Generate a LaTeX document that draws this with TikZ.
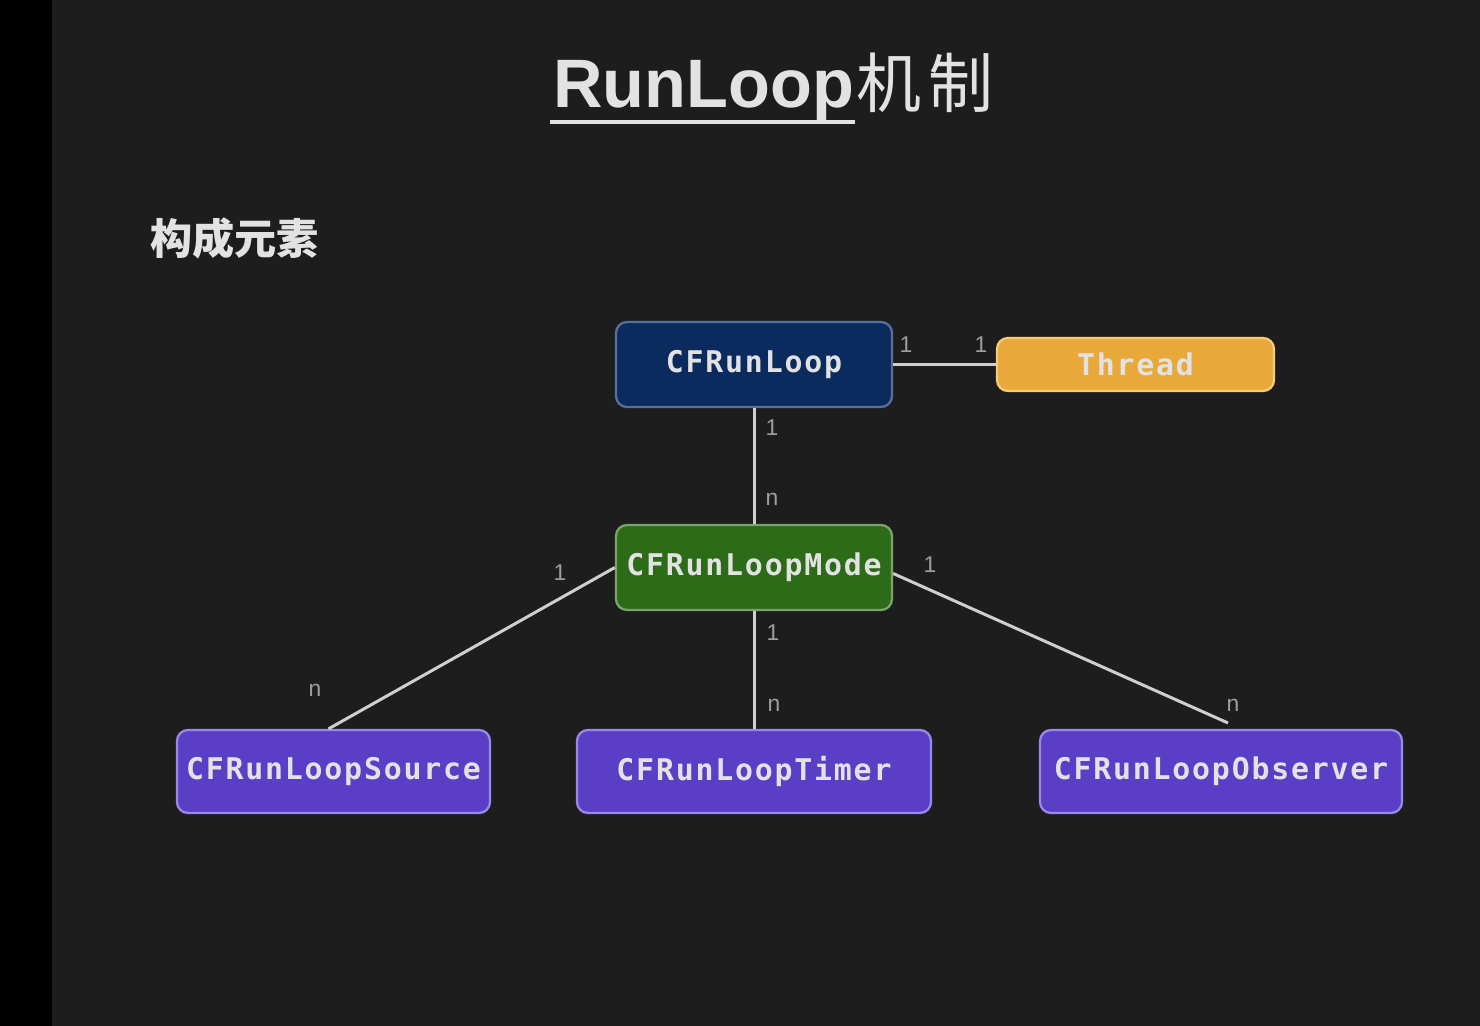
\documentclass[tikz,border=0pt]{standalone}
\usepackage{fontspec}
\setmainfont{Liberation Sans}
\newfontfamily\cjkfont{Noto Sans CJK SC}
\newfontfamily\boxfont[LetterSpace=6]{DejaVu Sans Mono}
\definecolor{bgc}{HTML}{1D1D1D}
\definecolor{txt}{HTML}{E2E2E2}
\definecolor{linec}{HTML}{CFCFCF}
\definecolor{lblc}{HTML}{9E9E9E}
\definecolor{navyF}{HTML}{0B2A5E}
\definecolor{navyD}{HTML}{5A6E9C}
\definecolor{orangeF}{HTML}{E8A93A}
\definecolor{orangeD}{HTML}{F5CB7A}
\definecolor{greenF}{HTML}{2C6B17}
\definecolor{greenD}{HTML}{7AA56A}
\definecolor{purpleF}{HTML}{5A3EC6}
\definecolor{purpleD}{HTML}{9A88E6}
\tikzset{
  box/.style={rounded corners=0.22cm, line width=1.3pt, inner sep=0pt,
    text=txt, font=\boxfont\bfseries\fontsize{17}{20}\selectfont},
  conn/.style={draw=linec, line width=1.7pt},
  lbl/.style={text=lblc, font=\fontsize{13}{15}\selectfont, inner sep=0pt}
}
\begin{document}
\begin{tikzpicture}[x=0.02cm,y=-0.02cm]
\useasboundingbox (0,0) rectangle (1480,1026);
\fill[bgc] (0,0) rectangle (1480,1026);
\fill[black] (0,0) rectangle (52,1026);
% title
\node[anchor=base west, inner sep=0pt, text=txt, font=\bfseries\fontsize{39}{44}\selectfont] (title) at (553,108) {RunLoop};
\node[anchor=base west, inner sep=0pt, text=txt, font=\cjkfont\fontsize{37}{44}\selectfont] (titlecjk) at ([xshift=2*0.02cm]title.base east) {机\hspace{4pt}制};
\draw[draw=txt, line width=1.8pt] (550,122) -- (855,122);
\node[anchor=west, inner sep=0pt, text=txt, font=\cjkfont\bfseries\fontsize{24}{28}\selectfont] (sub) at (150,238) {构成元素};
% nodes
\node[box, fill=navyF, draw=navyD, minimum width=276*0.02cm, minimum height=85*0.02cm] (loop) at (754,364.5) {CFRunLoop};
\node[box, fill=orangeF, draw=orangeD, minimum width=277*0.02cm, minimum height=53*0.02cm] (thread) at (1135.5,364.5) {Thread};
\node[box, fill=greenF, draw=greenD, minimum width=276*0.02cm, minimum height=85*0.02cm] (mode) at (754,567.5) {CFRunLoopMode};
\node[box, fill=purpleF, draw=purpleD, minimum width=313*0.02cm, minimum height=83*0.02cm] (source) at (333.5,771.5) {CFRunLoopSource};
\node[box, fill=purpleF, draw=purpleD, minimum width=354*0.02cm, minimum height=83*0.02cm] (timer) at (754,771.5) {CFRunLoopTimer};
\node[box, fill=purpleF, draw=purpleD, minimum width=362*0.02cm, minimum height=83*0.02cm] (observer) at (1221,771.5) {CFRunLoopObserver};
% connectors
\draw[conn] (loop.east) -- (thread.west);
\draw[conn] (loop.south) -- (mode.north);
\draw[conn] (mode.west) -- ([xshift=-5*0.02cm]source.north);
\draw[conn] (mode.south) -- (timer.north);
\coordinate (obsend) at (1228,723);
\draw[conn] ([yshift=-6*0.02cm]mode.east) -- (obsend);
% labels
\node[lbl] (l1) at (906,345) {1};
\node[lbl] (l2) at (981,345) {1};
\node[lbl] (l3) at (772,428) {1};
\node[lbl] (l4) at (772,499) {n};
\node[lbl] (l5) at (560,573) {1};
\node[lbl] (l6) at (315,690) {n};
\node[lbl] (l7) at (773,633) {1};
\node[lbl] (l8) at (774,705) {n};
\node[lbl] (l9) at (930,565) {1};
\node[lbl] (l10) at (1233,705) {n};
\end{tikzpicture}
\end{document}
